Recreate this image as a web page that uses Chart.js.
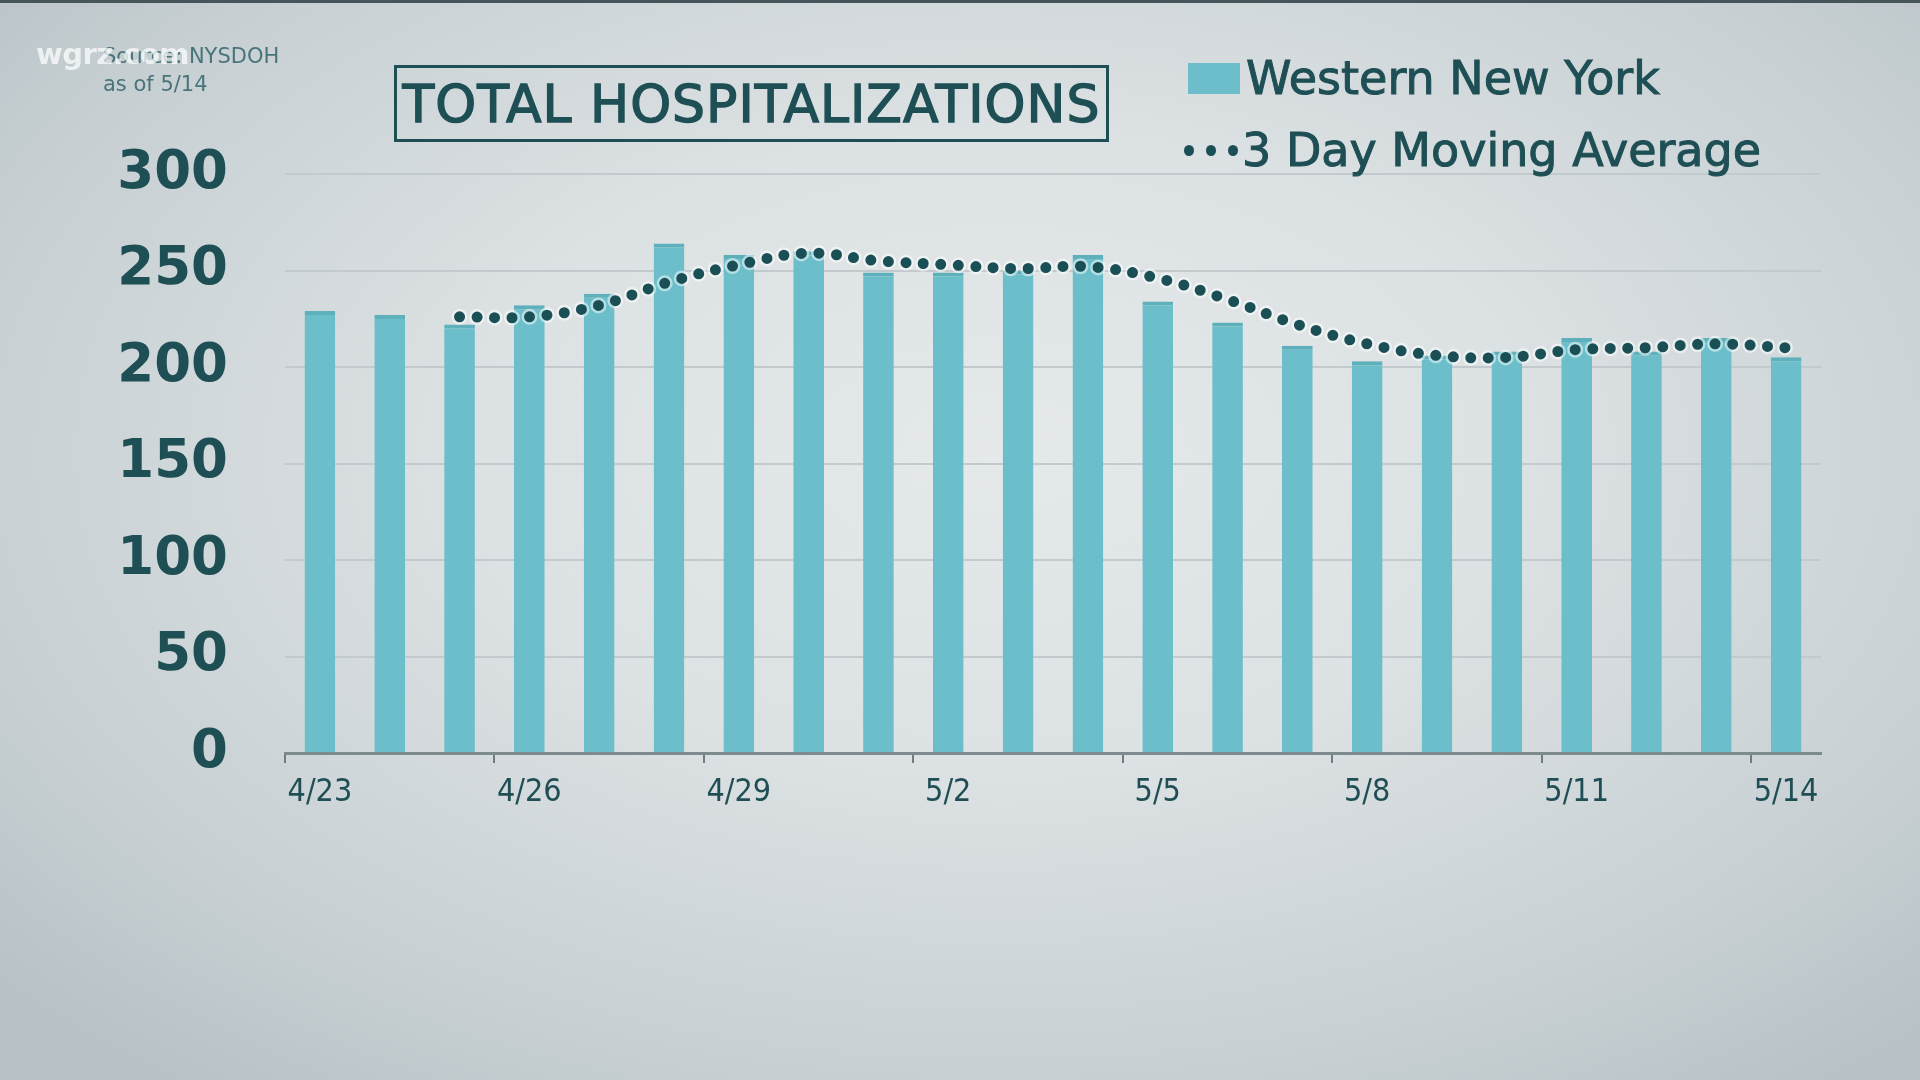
<!DOCTYPE html>
<html>
<head>
<meta charset="utf-8">
<title>Total Hospitalizations</title>
<script src="https://cdn.jsdelivr.net/npm/chart.js@4.4.1/dist/chart.umd.min.js"></script>
<style>
  html, body {
    margin: 0;
    padding: 0;
    width: 1920px;
    height: 1080px;
    overflow: hidden;
  }
  body {
    position: relative;
    background: radial-gradient(ellipse 70% 75% at 52% 42%, #e5e9ea 0%, #dce1e3 40%, #c9d1d4 75%, #b7c2c6 100%);
    font-family: "DejaVu Sans", sans-serif;
    color: #1e4f55;
  }
  .topline {
    position: absolute; left: 0; top: 0; width: 1920px; height: 3px;
    background: #46555a;
  }
  #wrap {
    position: absolute; left: 0; top: 0; width: 1920px; height: 1080px;
  }
  .source {
    position: absolute; left: 103px; top: 42px;
    font-size: 21px; color: #3a6b71; opacity: 0.9; line-height: 28px;
  }
  .watermark {
    position: absolute; left: 36px; top: 37px;
    font-size: 29px; font-weight: bold; color: #ffffff; opacity: 0.72;
    letter-spacing: -0.5px;
  }
  .title {
    position: absolute; left: 394px; top: 65px; width: 709px; height: 71px;
    border: 3px solid #1e4f55;
    font-size: 52px; line-height: 73px; text-align: center;
    letter-spacing: 1px;
    -webkit-text-stroke: 1.4px #1e4f55;
  }
  .legend {
    position: absolute; left: 1184px; top: 42px;
    font-size: 46px; line-height: 72px;
    -webkit-text-stroke: 1px #1e4f55;
  }
  .legend .row { display: flex; align-items: center; height: 72px; }
  .legend .swatch { width: 52px; height: 31px; background: #6cbfca; margin-right: 6px; margin-left: 4px; }
  .legend .dots { width: 58px; display: flex; justify-content: space-between; padding-right: 4px; box-sizing: border-box; }
  .legend .dots span { width: 10px; height: 11px; border-radius: 50%; background: #1a4f56; display: block; }
</style>
</head>
<body>
<div class="topline"></div>
<div id="wrap"><canvas id="chart"></canvas></div>

<div class="source">Source: NYSDOH<br>as of 5/14</div>
<div class="watermark">wgrz.com</div>
<div class="title">TOTAL HOSPITALIZATIONS</div>
<div class="legend">
  <div class="row"><div class="swatch"></div><span>Western New York</span></div>
  <div class="row"><div class="dots"><span></span><span></span><span></span></div><span>3 Day Moving Average</span></div>
</div>

<script>
// Données
const dateLabels = ["4/23", "4/24", "4/25", "4/26", "4/27", "4/28", "4/29", "4/30",
  "5/1", "5/2", "5/3", "5/4", "5/5", "5/6", "5/7", "5/8", "5/9", "5/10",
  "5/11", "5/12", "5/13", "5/14"];

const wnyValues = [229, 227, 222, 232, 238, 264, 258, 260, 249, 249, 250, 258,
  234, 223, 211, 203, 206, 208, 215, 208, 215, 205];

// moyenne mobile sur 3 jours (commence le 4/25)
const movingAvg = [null, null, 226, 226, 232, 244, 253, 259, 255, 253, 251, 252,
  246, 235, 222, 212, 206, 205, 209, 210, 212, 210];

const yTicks = [0, 50, 100, 150, 200, 250, 300];

const tealDark = "#1e4f55";

const ctx = document.getElementById("chart");

new Chart(ctx, {
  data: {
    labels: dateLabels,
    datasets: [
      {
        type: "line",
        label: "3 Day Moving Average",
        data: movingAvg,
        borderColor: "rgba(255,255,255,0.5)",
        borderWidth: 16,
        borderDash: [0, 17.5],
        borderCapStyle: "round",
        tension: 0.4,
        pointRadius: 0,
        fill: false,
        order: 1
      },
      {
        type: "line",
        label: "3 Day Moving Average",
        data: movingAvg,
        borderColor: "#1a4f56",
        borderWidth: 11,
        borderDash: [0, 17.5],
        borderCapStyle: "round",
        tension: 0.4,
        pointRadius: 0,
        fill: false,
        order: 0
      },
      {
        type: "bar",
        label: "Western New York",
        data: wnyValues,
        backgroundColor: "#6cbfca",
        borderColor: "#5eb0bb",
        borderWidth: { top: 4, left: 0, right: 0, bottom: 0 },
        borderSkipped: "bottom",
        categoryPercentage: 1,
        barPercentage: 0.44,
        order: 2
      }
    ]
  },
  options: {
    responsive: true,
    maintainAspectRatio: false,
    animation: false,
    layout: {
      padding: { top: 174, left: 0, right: 99, bottom: 227 }
    },
    plugins: {
      legend: { display: false },
      tooltip: { enabled: false }
    },
    scales: {
      x: {
        offset: true,
        grid: {
          offset: true,
          drawOnChartArea: false,
          drawTicks: true,
          tickLength: 10,
          lineWidth: 2,
          color: (c) => (c.index % 3 === 0 ? "#6f7d81" : "rgba(0,0,0,0)")
        },
        border: { display: true, color: "#7d8a8e", width: 3 },
        ticks: {
          autoSkip: false,
          maxRotation: 0,
          padding: 10,
          color: "#1f4f55",
          font: { family: "'Liberation Sans Narrow', 'DejaVu Sans Condensed', sans-serif", size: 32 },
          callback: function (value, index) {
            return index % 3 === 0 ? this.getLabelForValue(value) : "";
          }
        },
        afterFit: (scale) => { scale.height = 100; }
      },
      y: {
        min: yTicks[0],
        max: yTicks[yTicks.length - 1],
        afterBuildTicks: (scale) => { scale.ticks = yTicks.map(v => ({ value: v })); },
        grid: { color: "#c2cacd", lineWidth: 2, drawTicks: false },
        border: { display: false },
        ticks: {
          padding: 57,
          color: tealDark,
          font: { family: "'DejaVu Sans', sans-serif", size: 53, weight: "bold" }
        },
        afterFit: (scale) => { scale.width = 285; }
      }
    }
  }
});
</script>
</body>
</html>
